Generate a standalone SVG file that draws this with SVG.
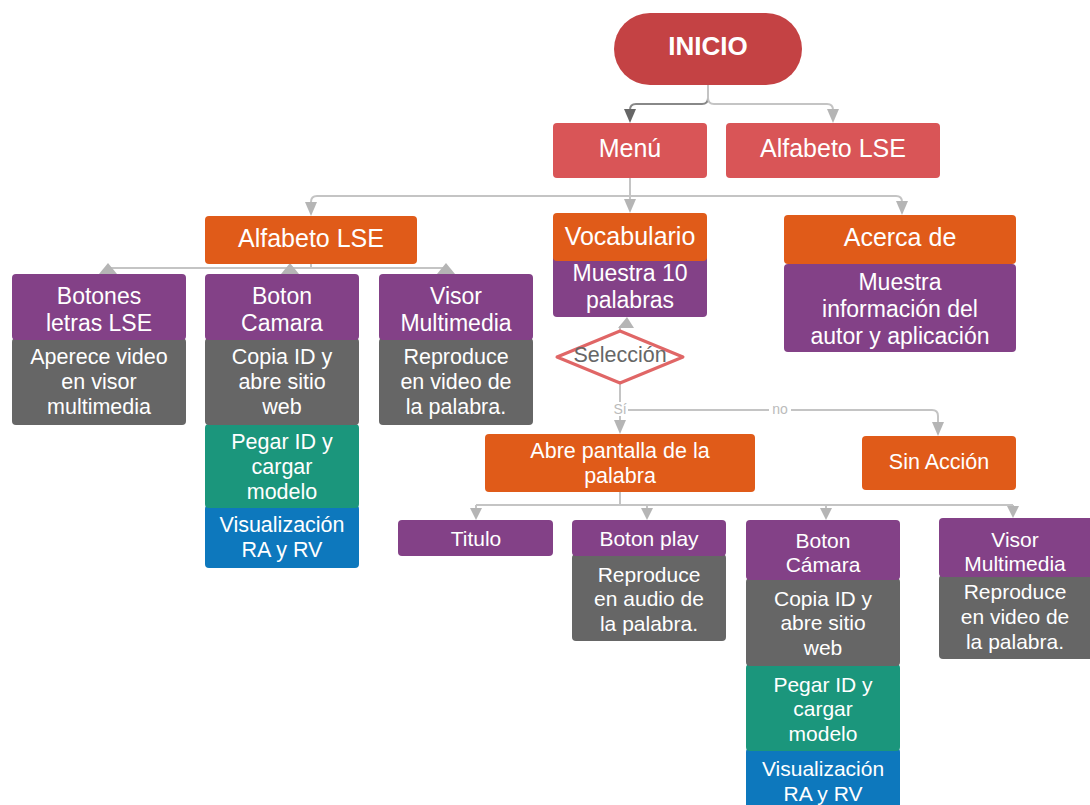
<svg xmlns="http://www.w3.org/2000/svg" width="1090" height="805" viewBox="0 0 1090 805">
<style>
text{font-family:"Liberation Sans",Arial,sans-serif;fill:#fff;text-anchor:middle;dominant-baseline:central}
.red{fill:#d95557}.org{fill:#e05b19}.pur{fill:#834187}.gry{fill:#666}.grn{fill:#1b967c}.blu{fill:#0d78bd}
.c{fill:none;stroke:#c4c4c4;stroke-width:2}
.t22{font-size:25px}.t20{font-size:23px}.t19{font-size:21.5px}.t18{font-size:21px}
.lbl{font-size:14px;fill:#bbb}
</style>
<g id="connectors">
<path class="c" d="M708,85 V98 Q708,104 702,104 H636 Q630,104 630,110 V112" style="stroke:#888"/>
<polygon points="624,109 636,109 630,123" fill="#666"/>
<path class="c" d="M708,85 V98 Q708,104 714,104 H827 Q833,104 833,110 V112"/>
<polygon points="827,109 839,109 833,123" fill="#b5b5b5"/>
<path class="c" d="M630,178 V202"/>
<polygon points="624,199 636,199 630,213" fill="#b5b5b5"/>
<path class="c" d="M630,196 H317 Q311,196 311,202 V205"/>
<polygon points="305,202 317,202 311,216" fill="#b5b5b5"/>
<path class="c" d="M630,196 H896 Q902,196 902,202 V205"/>
<polygon points="896,201 908,201 902,215" fill="#b5b5b5"/>
<path class="c" d="M311,264 V268 M108,268 H445"/>
<polygon points="99,274 117,274 108,263" fill="#b5b5b5"/>
<polygon points="281,274 299,274 290,263" fill="#b5b5b5"/>
<polygon points="437,274 455,274 446,263" fill="#b5b5b5"/>
<path class="c" d="M620,330 V326"/>
<polygon points="618,328 634,328 627,317" fill="#b5b5b5"/>
<path class="c" d="M620,384 V422"/>
<polygon points="614,420 626,420 620,434" fill="#b5b5b5"/>
<path class="c" d="M620,410 H932 Q938,410 938,416 V424"/>
<polygon points="932,422 944,422 938,436" fill="#b5b5b5"/>
<rect x="612" y="402" width="16" height="14" fill="#fff"/>
<text class="lbl" x="620" y="409">Sí</text>
<rect x="769" y="403" width="22" height="14" fill="#fff"/>
<text class="lbl" x="780" y="409">no</text>
<path class="c" d="M620,492 V505 M476,505 H1013 M476,505 V510 M647,505 V510 M826,505 V510 M1013,505 V508"/>
<polygon points="470,508 482,508 476,520" fill="#b5b5b5"/>
<polygon points="641,508 653,508 647,520" fill="#b5b5b5"/>
<polygon points="820,508 832,508 826,520" fill="#b5b5b5"/>
<polygon points="1007,506 1019,506 1013,518" fill="#b5b5b5"/>
</g>
<g id="inicio"><rect x="614" y="13" width="188" height="72" rx="36" fill="#c44244"/><text x="708" y="46" style="font-size:26px;font-weight:bold">INICIO</text></g>
<g id="menu"><rect class="red" x="553" y="123" width="154" height="55" rx="4"/><text class="t22" x="630" y="148">Menú</text></g>
<g id="alfabeto-top"><rect class="red" x="726" y="123" width="214" height="55" rx="4"/><text class="t22" x="833" y="148">Alfabeto LSE</text></g>
<g id="alfabeto"><rect class="org" x="205" y="216" width="212" height="48" rx="4"/><text class="t22" x="311" y="238">Alfabeto LSE</text></g>
<g id="vocabulario"><rect class="pur" x="553" y="255" width="154" height="62" rx="4"/><rect class="org" x="553" y="213" width="154" height="48" rx="4"/>
<text class="t22" x="630" y="236">Vocabulario</text><text class="t20" x="630" y="273">Muestra 10</text><text class="t20" x="630" y="300">palabras</text></g>
<g id="acerca"><rect class="pur" x="784" y="264" width="232" height="88" rx="4"/><rect class="org" x="784" y="215" width="232" height="49" rx="4"/>
<text class="t22" x="900" y="237">Acerca de</text><text class="t20" x="900" y="282">Muestra</text><text class="t20" x="900" y="309">información del</text><text class="t20" x="900" y="336">autor y aplicación</text></g>
<g id="botones"><rect class="gry" x="12" y="338" width="174" height="87" rx="4"/><rect class="pur" x="12" y="274" width="174" height="66" rx="4"/>
<text class="t20" x="99" y="296">Botones</text><text class="t20" x="99" y="323">letras LSE</text>
<text class="t19" x="99" y="357">Aperece video</text><text class="t19" x="99" y="382">en visor</text><text class="t19" x="99" y="407">multimedia</text></g>
<g id="boton-camara"><rect class="blu" x="205" y="505" width="154" height="63" rx="4"/><rect class="grn" x="205" y="424" width="154" height="84" rx="4"/><rect class="gry" x="205" y="338" width="154" height="87" rx="4"/><rect class="pur" x="205" y="274" width="154" height="66" rx="4"/>
<text class="t20" x="282" y="296">Boton</text><text class="t20" x="282" y="323">Camara</text>
<text class="t19" x="282" y="357">Copia ID y</text><text class="t19" x="282" y="382">abre sitio</text><text class="t19" x="282" y="407">web</text>
<text class="t19" x="282" y="442">Pegar ID y</text><text class="t19" x="282" y="467">cargar</text><text class="t19" x="282" y="492">modelo</text>
<text class="t19" x="282" y="525">Visualización</text><text class="t19" x="282" y="550">RA y RV</text></g>
<g id="visor"><rect class="gry" x="379" y="338" width="154" height="87" rx="4"/><rect class="pur" x="379" y="274" width="154" height="66" rx="4"/>
<text class="t20" x="456" y="296">Visor</text><text class="t20" x="456" y="323">Multimedia</text>
<text class="t19" x="456" y="357">Reproduce</text><text class="t19" x="456" y="382">en video de</text><text class="t19" x="456" y="407">la palabra.</text></g>
<g id="seleccion"><polygon points="620,331 683,357 620,383 557,357" fill="#fff" stroke="#e06666" stroke-width="3" stroke-linejoin="round"/><text class="t19" x="620" y="355" style="fill:#666">Selección</text></g>
<g id="abre"><rect class="org" x="485" y="434" width="270" height="58" rx="4"/><text class="t19" x="620" y="451">Abre pantalla de la</text><text class="t19" x="620" y="476">palabra</text></g>
<g id="sin-accion"><rect class="org" x="862" y="436" width="154" height="54" rx="4"/><text class="t19" x="939" y="462">Sin Acción</text></g>
<g id="titulo"><rect class="pur" x="398" y="520" width="155" height="36" rx="4"/><text class="t18" x="476" y="538">Titulo</text></g>
<g id="boton-play"><rect class="gry" x="572" y="554" width="154" height="87" rx="4"/><rect class="pur" x="572" y="520" width="154" height="36" rx="4"/>
<text class="t18" x="649" y="538">Boton play</text>
<text class="t18" x="649" y="574">Reproduce</text><text class="t18" x="649" y="598">en audio de</text><text class="t18" x="649" y="623">la palabra.</text></g>
<g id="boton-camara-2"><rect class="blu" x="746" y="748" width="154" height="62" rx="4"/><rect class="grn" x="746" y="664" width="154" height="87" rx="4"/><rect class="gry" x="746" y="578" width="154" height="88" rx="4"/><rect class="pur" x="746" y="520" width="154" height="60" rx="4"/>
<text class="t18" x="823" y="540">Boton</text><text class="t18" x="823" y="564">Cámara</text>
<text class="t18" x="823" y="598">Copia ID y</text><text class="t18" x="823" y="622">abre sitio</text><text class="t18" x="823" y="647">web</text>
<text class="t18" x="823" y="684">Pegar ID y</text><text class="t18" x="823" y="708">cargar</text><text class="t18" x="823" y="733">modelo</text>
<text class="t18" x="823" y="768">Visualización</text><text class="t18" x="823" y="793">RA y RV</text></g>
<g id="visor-2"><rect class="gry" x="939" y="575" width="155" height="84" rx="4"/><rect class="pur" x="939" y="518" width="155" height="59" rx="4"/>
<text class="t18" x="1015" y="539">Visor</text><text class="t18" x="1015" y="563">Multimedia</text>
<text class="t18" x="1015" y="591">Reproduce</text><text class="t18" x="1015" y="616">en video de</text><text class="t18" x="1015" y="641">la palabra.</text></g>
</svg>
